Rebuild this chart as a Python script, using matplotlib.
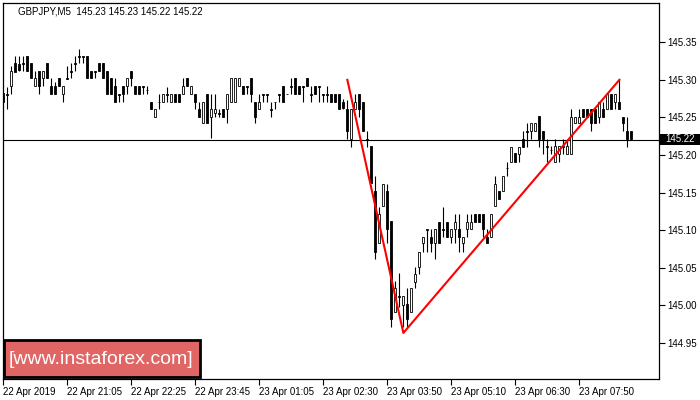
import matplotlib
matplotlib.use('Agg')
import matplotlib.pyplot as plt
from matplotlib import font_manager
from matplotlib.patches import Rectangle
import numpy as np

header = 'GBPJPY,M5  145.23 145.23 145.22 145.22'
watermark = '[www.instaforex.com]'

opens = [145.282, 145.281, 145.292, 145.322, 145.321, 145.322, 145.332, 145.322, 145.292, 145.312,
         145.302, 145.322, 145.292, 145.292, 145.302, 145.281, 145.302, 145.312, 145.322, 145.332,
         145.332, 145.332, 145.312, 145.312, 145.322, 145.322, 145.312, 145.302, 145.292, 145.281,
         145.292, 145.292, 145.312, 145.292, 145.292, 145.292, 145.286, 145.270, 145.250, 145.270,
         145.270, 145.281, 145.270, 145.281, 145.281, 145.281, 145.302, 145.281, 145.281, 145.261,
         145.242, 145.281, 145.250, 145.256, 145.256, 145.261, 145.261, 145.270, 145.270, 145.292,
         145.292, 145.292, 145.302, 145.270, 145.261, 145.281, 145.281, 145.261, 145.270, 145.281,
         145.292, 145.281, 145.292, 145.302, 145.292, 145.292, 145.302, 145.281, 145.292, 145.292,
         145.281, 145.281, 145.281, 145.281, 145.281, 145.270, 145.261, 145.221, 145.261, 145.281,
         145.270, 145.221, 145.212, 145.152, 145.083, 145.132, 145.152, 145.112, 144.991, 145.012,
         145.000, 145.002, 144.991, 145.031, 145.051, 145.083, 145.101, 145.091, 145.083, 145.111,
         145.101, 145.111, 145.091, 145.101, 145.101, 145.083, 145.101, 145.101, 145.121, 145.121,
         145.121, 145.091, 145.091, 145.132, 145.152, 145.152, 145.183, 145.191, 145.203, 145.201,
         145.221, 145.232, 145.232, 145.232, 145.252, 145.232, 145.212, 145.207, 145.191, 145.201,
         145.212, 145.201, 145.201, 145.242, 145.242, 145.261, 145.261, 145.261, 145.261, 145.250,
         145.261, 145.261, 145.281, 145.270, 145.270, 145.250, 145.232, 145.232]
highs = [145.282, 145.290, 145.318, 145.332, 145.332, 145.332, 145.332, 145.322, 145.312, 145.312,
         145.312, 145.322, 145.302, 145.297, 145.302, 145.292, 145.318, 145.322, 145.332, 145.341,
         145.332, 145.332, 145.312, 145.312, 145.322, 145.322, 145.312, 145.302, 145.302, 145.281,
         145.292, 145.302, 145.312, 145.292, 145.292, 145.292, 145.292, 145.270, 145.261, 145.281,
         145.281, 145.290, 145.281, 145.281, 145.281, 145.302, 145.302, 145.292, 145.281, 145.270,
         145.270, 145.281, 145.281, 145.281, 145.261, 145.261, 145.281, 145.302, 145.302, 145.302,
         145.292, 145.292, 145.302, 145.270, 145.281, 145.281, 145.281, 145.270, 145.270, 145.281,
         145.292, 145.281, 145.302, 145.302, 145.292, 145.292, 145.302, 145.292, 145.292, 145.292,
         145.281, 145.292, 145.281, 145.281, 145.281, 145.275, 145.273, 145.261, 145.281, 145.281,
         145.270, 145.232, 145.212, 145.172, 145.131, 145.161, 145.161, 145.112, 145.032, 145.043,
         145.012, 145.023, 145.023, 145.051, 145.071, 145.091, 145.101, 145.101, 145.101, 145.111,
         145.131, 145.111, 145.101, 145.121, 145.121, 145.091, 145.121, 145.121, 145.121, 145.121,
         145.121, 145.101, 145.121, 145.172, 145.152, 145.172, 145.191, 145.211, 145.203, 145.211,
         145.232, 145.242, 145.242, 145.242, 145.252, 145.232, 145.221, 145.212, 145.221, 145.212,
         145.221, 145.221, 145.261, 145.250, 145.261, 145.261, 145.261, 145.261, 145.261, 145.270,
         145.270, 145.281, 145.281, 145.281, 145.301, 145.250, 145.250, 145.232]
lows = [145.270, 145.261, 145.281, 145.312, 145.312, 145.312, 145.312, 145.302, 145.292, 145.281,
        145.292, 145.302, 145.281, 145.281, 145.292, 145.270, 145.301, 145.302, 145.312, 145.322,
        145.322, 145.302, 145.302, 145.302, 145.312, 145.302, 145.281, 145.281, 145.270, 145.270,
        145.270, 145.281, 145.292, 145.281, 145.281, 145.281, 145.281, 145.261, 145.250, 145.261,
        145.270, 145.270, 145.270, 145.270, 145.270, 145.281, 145.292, 145.281, 145.261, 145.250,
        145.242, 145.242, 145.222, 145.250, 145.250, 145.250, 145.242, 145.270, 145.270, 145.292,
        145.281, 145.281, 145.270, 145.242, 145.261, 145.270, 145.270, 145.250, 145.261, 145.270,
        145.270, 145.281, 145.281, 145.281, 145.281, 145.270, 145.292, 145.270, 145.281, 145.270,
        145.270, 145.270, 145.270, 145.270, 145.261, 145.261, 145.221, 145.211, 145.261, 145.250,
        145.232, 145.211, 145.163, 145.061, 145.083, 145.132, 145.083, 144.971, 144.991, 144.998,
        144.971, 144.971, 144.991, 145.023, 145.041, 145.071, 145.071, 145.071, 145.061, 145.083,
        145.091, 145.091, 145.083, 145.083, 145.071, 145.071, 145.091, 145.101, 145.111, 145.111,
        145.091, 145.083, 145.091, 145.132, 145.141, 145.152, 145.172, 145.191, 145.191, 145.191,
        145.211, 145.211, 145.221, 145.232, 145.211, 145.201, 145.191, 145.201, 145.191, 145.191,
        145.201, 145.201, 145.201, 145.242, 145.242, 145.250, 145.250, 145.232, 145.242, 145.242,
        145.250, 145.261, 145.261, 145.261, 145.261, 145.232, 145.211, 145.221]
closes = [145.270, 145.280, 145.312, 145.311, 145.313, 145.321, 145.312, 145.302, 145.302, 145.292,
          145.312, 145.302, 145.281, 145.281, 145.292, 145.292, 145.301, 145.311, 145.321, 145.331,
          145.331, 145.302, 145.302, 145.311, 145.312, 145.302, 145.281, 145.281, 145.270, 145.280,
          145.281, 145.302, 145.302, 145.281, 145.281, 145.291, 145.286, 145.261, 145.261, 145.271,
          145.281, 145.280, 145.281, 145.270, 145.270, 145.292, 145.292, 145.292, 145.270, 145.250,
          145.270, 145.242, 145.261, 145.261, 145.255, 145.250, 145.281, 145.302, 145.302, 145.302,
          145.281, 145.291, 145.281, 145.250, 145.270, 145.280, 145.280, 145.260, 145.271, 145.280,
          145.270, 145.281, 145.291, 145.281, 145.281, 145.291, 145.292, 145.280, 145.281, 145.291,
          145.280, 145.280, 145.270, 145.270, 145.261, 145.262, 145.232, 145.261, 145.270, 145.261,
          145.232, 145.220, 145.163, 145.071, 145.121, 145.161, 145.101, 144.981, 145.023, 145.011,
          145.012, 144.981, 145.023, 145.041, 145.071, 145.091, 145.100, 145.083, 145.101, 145.083,
          145.100, 145.091, 145.101, 145.111, 145.091, 145.091, 145.111, 145.111, 145.111, 145.111,
          145.101, 145.083, 145.121, 145.161, 145.141, 145.172, 145.182, 145.211, 145.191, 145.211,
          145.211, 145.231, 145.242, 145.242, 145.221, 145.221, 145.211, 145.206, 145.212, 145.212,
          145.211, 145.212, 145.250, 145.250, 145.250, 145.250, 145.250, 145.242, 145.242, 145.270,
          145.250, 145.281, 145.261, 145.281, 145.261, 145.242, 145.221, 145.221]

date_pos = [0, 16, 32, 48, 64, 80, 96, 112, 128, 144]
date_labels = ['22 Apr 2019', '22 Apr 21:05', '22 Apr 22:25', '22 Apr 23:45', '23 Apr 01:05',
               '23 Apr 02:30', '23 Apr 03:50', '23 Apr 05:10', '23 Apr 06:30', '23 Apr 07:50']
price_ticks = [144.95, 145.00, 145.05, 145.10, 145.15, 145.20, 145.25, 145.30, 145.35]
bid = 145.22
pattern_x = [86, 100, 154]
pattern_y = [145.300, 144.963, 145.300]

plt.rcParams['font.family'] = ['Liberation Sans', 'DejaVu Sans']
names = set(f.name for f in font_manager.fontManager.ttflist)

fig = plt.figure(figsize=(7, 4), dpi=100)
fig.patch.set_facecolor('white')
ax = fig.add_axes([2.5/700, 21/400, 656.5/700, 376/400])

o = np.array(opens); h = np.array(highs); l = np.array(lows); c = np.array(closes)
x = np.arange(len(o))
ax.axhline(bid, color='black', lw=0.8, zorder=1)
ax.vlines(x, l, h, color='black', lw=0.8, zorder=2)
face = np.where(c < o, 'black', 'white')
ax.bar(x, np.abs(c - o), bottom=np.minimum(o, c), width=0.55, color=face,
       edgecolor='black', linewidth=0.6, zorder=3)
ax.plot(pattern_x, pattern_y, color='red', lw=1.5, zorder=4)

ax.set_xlim(-0.2, 163.9)
ax.set_ylim(144.9017, 145.4023)
for s in ax.spines.values():
    s.set_color('black')
    s.set_linewidth(0.9)

ax.yaxis.tick_right()
ax.set_yticks(price_ticks)
ax.set_yticklabels(['%.2f' % v for v in price_ticks])
ax.tick_params(axis='y', direction='out', length=4, width=0.8, pad=2, labelsize=7)
ax.set_xticks(date_pos)
ax.set_xticklabels(date_labels)
ax.tick_params(axis='x', direction='out', length=4, width=0.8, pad=2, labelsize=7)
for lab in ax.get_xticklabels():
    lab.set_ha('left')
    lab.set_x(0)

fig.text(18/700, 1 - 11/400, header, fontsize=7, va='center', ha='left')

# current bid label on the price scale
fig.add_artist(Rectangle((660/700, (400 - 145)/400), 40/700, 11/400,
                         transform=fig.transFigure, facecolor='black', edgecolor='none'))
fig.text(665/700, 1 - 139.5/400, '%.2f' % bid, color='white', fontsize=7, va='center', ha='left')

# watermark
fig.add_artist(Rectangle((3.5/700, (400 - 377)/400), 196/700, 37/400,
                         transform=fig.transFigure, facecolor='#E06666', edgecolor='black', linewidth=2))
if 'Liberation Sans Narrow' in names:
    fig.text(101/700, 1 - 359/400, watermark, color='white', fontsize=17,
             family='Liberation Sans Narrow', ha='center', va='center')
else:
    fig.text(101/700, 1 - 359/400, watermark, color='white', fontsize=14,
             ha='center', va='center')

fig.savefig('out.png', dpi=100)
